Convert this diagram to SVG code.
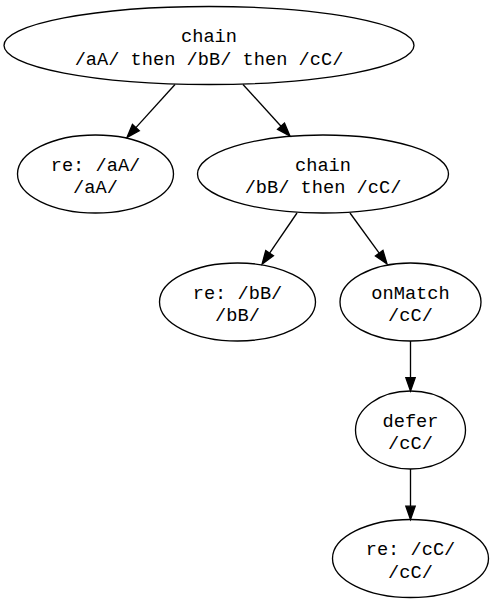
<svg xmlns="http://www.w3.org/2000/svg" width="493" height="603" viewBox="0 0 493 603">
<style>
.n ellipse{fill:none;stroke:#000;stroke-width:1.33}
.n text{font-family:"Liberation Mono","Courier New",monospace;font-size:18.67px;text-anchor:middle;fill:#000}
#edges path{fill:none;stroke:#000;stroke-width:1.33;marker-end:url(#arr)}
</style>
<defs>
<marker id="arr" markerUnits="userSpaceOnUse" markerWidth="16" markerHeight="12" refX="0" refY="0" viewBox="0 -6 16 12" orient="auto" overflow="visible">
<path d="M0,-4.67 L13.3,0 L0,4.67 z" fill="#000" stroke="#000" stroke-width="1.33"/>
</marker>
</defs>
<rect width="493" height="603" fill="#fff"/>
<g id="edges">
<path d="M175,84.5 L135.9,127.6"/>
<path d="M243,84.5 L281,126.2"/>
<path d="M297,213 L269.6,253.1"/>
<path d="M350,213 L379.2,253.2"/>
<path d="M410.5,341 L410.5,377.7"/>
<path d="M410.5,469 L410.5,506.2"/>
</g>
<g id="n1" class="n"><ellipse cx="209" cy="45.5" rx="205" ry="39"/><text x="209" y="42">chain</text><text x="209" y="64.5">/aA/ then /bB/ then /cC/</text></g>
<g id="n2" class="n"><ellipse cx="95.5" cy="174" rx="78" ry="39"/><text x="95.5" y="170.5">re: /aA/</text><text x="95.5" y="193">/aA/</text></g>
<g id="n3" class="n"><ellipse cx="323" cy="174" rx="125.5" ry="39"/><text x="323" y="170.5">chain</text><text x="323" y="193">/bB/ then /cC/</text></g>
<g id="n4" class="n"><ellipse cx="237.5" cy="302" rx="78" ry="39"/><text x="237.5" y="298.5">re: /bB/</text><text x="237.5" y="321">/bB/</text></g>
<g id="n5" class="n"><ellipse cx="410.5" cy="302" rx="70.5" ry="39"/><text x="410.5" y="298.5">onMatch</text><text x="410.5" y="321">/cC/</text></g>
<g id="n6" class="n"><ellipse cx="410.5" cy="430" rx="55" ry="39"/><text x="410.5" y="426.5">defer</text><text x="410.5" y="449">/cC/</text></g>
<g id="n7" class="n"><ellipse cx="410.5" cy="558.5" rx="78" ry="39"/><text x="410.5" y="555">re: /cC/</text><text x="410.5" y="577.5">/cC/</text></g>
</svg>
